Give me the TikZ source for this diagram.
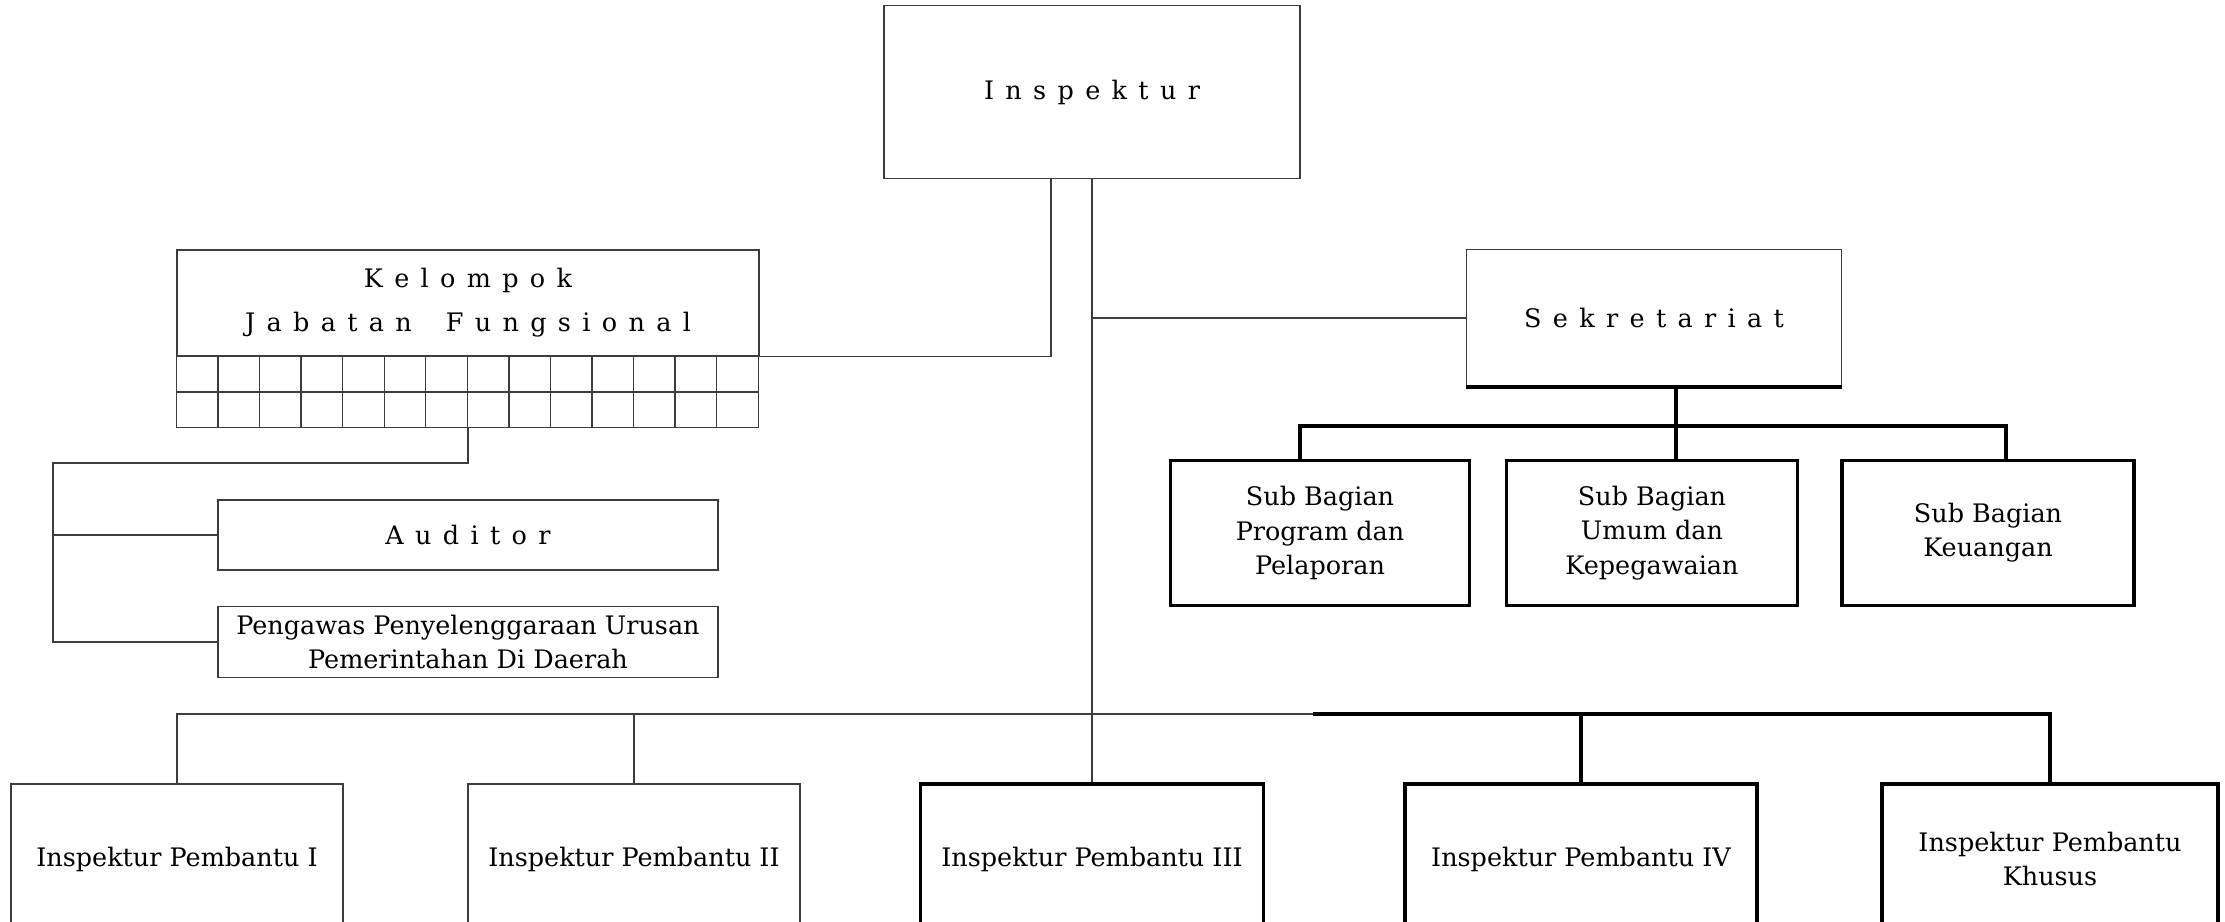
\documentclass[tikz,border=0pt]{standalone}
\usepackage{tikz}
\usepackage{fontspec}
\setmainfont{DejaVu Serif}
\newfontfamily\jarangfont[WordSpace=1.4]{DejaVu Serif}
\definecolor{GarisAbu}{HTML}{3C3C3C}
\tikzset{
	garis/.style={draw=GarisAbu, line width=0.8pt},
	garisTebal/.style={draw=black, line width=2.2pt},
	kotak/.style={garis, rectangle, align=center, inner sep=2pt, font=\fontsize{14.5}{19.5}\selectfont},
	kotakTebal/.style={kotak, garisTebal},
	jarang/.style={font=\jarangfont\fontsize{14.5}{25}\selectfont}
}

\begin{document}
\begin{tikzpicture}[x=0.02cm, y=-0.02cm]
	\useasboundingbox (0,0) rectangle (2225,922);
	\clip (0,0) rectangle (2225,922);
	%
	\node[kotak, jarang, minimum width=8.32cm, minimum height=3.46cm] at (1092,92) (insp) {I n s p e k t u r};
	\node[kotak, jarang, minimum width=7.5cm, minimum height=2.74cm] at (1654,318) (sekr) {S e k r e t a r i a t};
	\node[kotak, jarang, minimum width=11.64cm, minimum height=2.12cm] at (468,303) (kjf) {K e l o m p o k\\J a b a t a n \ \ F u n g s i o n a l};
	\node[kotak, jarang, minimum width=10cm, minimum height=1.4cm] at (468,535) (aud) {A u d i t o r};
	\node[kotak, minimum width=10cm, minimum height=1.42cm, inner sep=0pt] at (468,642) (ppud) {Pengawas Penyelenggaraan Urusan\\Pemerintahan Di Daerah};
	%Sub Bagian
	\node[kotakTebal, minimum width=5.98cm, minimum height=2.9cm] at (1320,533) (sbpp) {Sub Bagian\\Program dan\\Pelaporan};
	\node[kotakTebal, minimum width=5.82cm, minimum height=2.9cm] at (1652,533) (sbuk) {Sub Bagian\\Umum dan\\Kepegawaian};
	\node[kotakTebal, minimum width=5.84cm, minimum height=2.9cm] at (1988,533) (sbk) {Sub Bagian\\Keuangan};
	%Inspektur Pembantu
	\node[kotak, minimum width=6.64cm, minimum height=3cm] at (177,859) (ip1) {Inspektur Pembantu I};
	\node[kotak, minimum width=6.64cm, minimum height=3cm] at (634,859) (ip2) {Inspektur Pembantu II};
	\node[kotakTebal, minimum width=6.86cm, minimum height=3cm] at (1092,859) (ip3) {Inspektur Pembantu III};
	\node[kotakTebal, minimum width=7.04cm, minimum height=3cm] at (1581,859) (ip4) {Inspektur Pembantu IV};
	\node[kotakTebal, minimum width=6.72cm, minimum height=3cm] at (2050,859) (ip5) {Inspektur Pembantu\\Khusus};
	%
	%Kelompok Jabatan Fungsional
	\draw[garis] (kjf.south west) rectangle ++(582,71);
	\draw[garis] (kjf.south west) ++(0,35.5) -- ++(582,0);
	\foreach \i in {1,...,13}
		\draw[garis] (kjf.south west) ++(\i*41.57,0) -- ++(0,71);
	\path (kjf.south) ++(0,71) coordinate (kjfb);
	\coordinate (kiri) at (53,463);
	\draw[garis] (kjfb) |- (kiri) |- (ppud.west);
	\draw[garis] (kiri |- aud.west) -- (aud.west);
	%
	\draw[garis] (insp.south) -- (ip3.north);
	\draw[garis] (insp.south |- sekr.west) -- (sekr.west);
	\draw[garis] ([xshift=-0.82cm]insp.south) |- (kjf.south east);
	%Sekretariat
	\draw[garisTebal] (sekr.south west) -- (sekr.south east);
	\coordinate (busS) at (1676,426);
	\draw[garisTebal] ([xshift=0.44cm]sekr.south) -- (busS);
	\draw[garisTebal] ([xshift=-0.4cm]sbpp.north) |- (busS) -| ([xshift=0.36cm]sbk.north);
	\draw[garisTebal] (busS) -- (busS |- sbuk.north);
	%
	\coordinate (putus) at (1313,714);
	\draw[garis] (ip1.north) |- (putus);
	\draw[garis] (ip2.north) -- (ip2.north |- putus);
	\draw[garisTebal] (putus) -| (ip5.north);
	\draw[garisTebal] (ip4.north) -- (ip4.north |- putus);
	%
\end{tikzpicture}
\end{document}
